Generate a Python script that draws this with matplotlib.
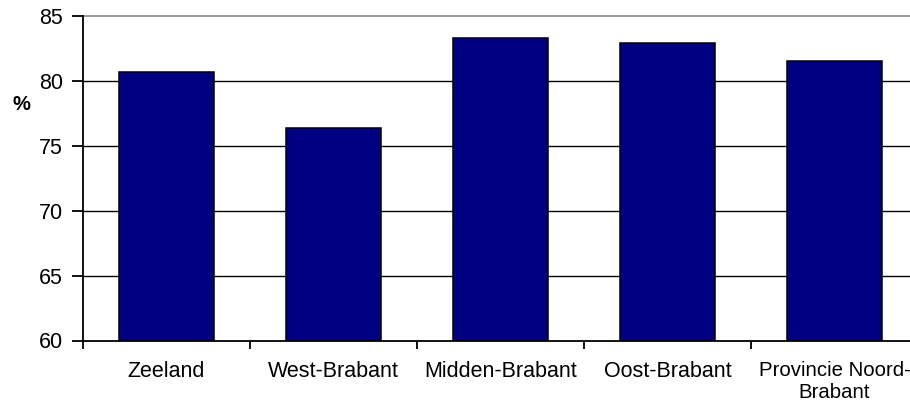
import matplotlib
matplotlib.use('Agg')
import matplotlib.pyplot as plt
import matplotlib.transforms as mtransforms
import numpy as np

plt.rcParams['font.family'] = ['Liberation Sans', 'DejaVu Sans']

regios = ['Zeeland', 'West-Brabant', 'Midden-Brabant', 'Oost-Brabant',
          'Provincie Noord-\nBrabant']
waarden = [80.7, 76.4, 83.3, 82.9, 81.5]
y_ticks = [60, 65, 70, 75, 80, 85]

fig = plt.figure(figsize=(9.10, 4.05), dpi=100)
ax = fig.add_axes([83 / 910, 64.5 / 405, 835 / 910, 324.5 / 405])

x = np.arange(len(regios))
ax.bar(x, waarden, width=0.563, color='#000080', edgecolor='black',
       linewidth=1.1, zorder=3)

ax.set_xlim(-0.5, len(regios) - 0.5)
ax.set_ylim(60, 85)
ax.set_yticks(y_ticks)
for v in y_ticks[1:-1]:
    ax.axhline(v, color='black', linewidth=1.0, zorder=1)
ax.axhline(85, color='#999999', linewidth=1.4, zorder=1, clip_on=False)

# ticks op de grenzen, labels in het midden
ax.set_xticks(np.arange(len(regios) + 1) - 0.5)
ax.set_xticklabels([])
ax.set_xticks(x, minor=True)
lbls = ax.set_xticklabels(regios, minor=True, fontsize=15.5, linespacing=1.15)
# laatste label valt anders buiten de figuur
lbls[-1].set_fontsize(14.7)
lbls[-1].set_transform(lbls[-1].get_transform() +
                       mtransforms.ScaledTranslation(-8 / 100, 0, fig.dpi_scale_trans))
ax.tick_params(axis='x', which='major', length=6, width=1.3, direction='out')
ax.tick_params(axis='x', which='minor', length=0, pad=15)
ax.tick_params(axis='y', length=8, width=1.3, direction='out', pad=6.5,
               labelsize=15.5)

for s in ['top', 'right']:
    ax.spines[s].set_visible(False)
for s in ['left', 'bottom']:
    ax.spines[s].set_linewidth(1.3)
    ax.spines[s].set_zorder(4)

fig.text(21 / 910, (405 - 105) / 405, '%', fontsize=14.5, fontweight='bold',
         ha='center', va='center')

fig.savefig('out.png', dpi=100)
